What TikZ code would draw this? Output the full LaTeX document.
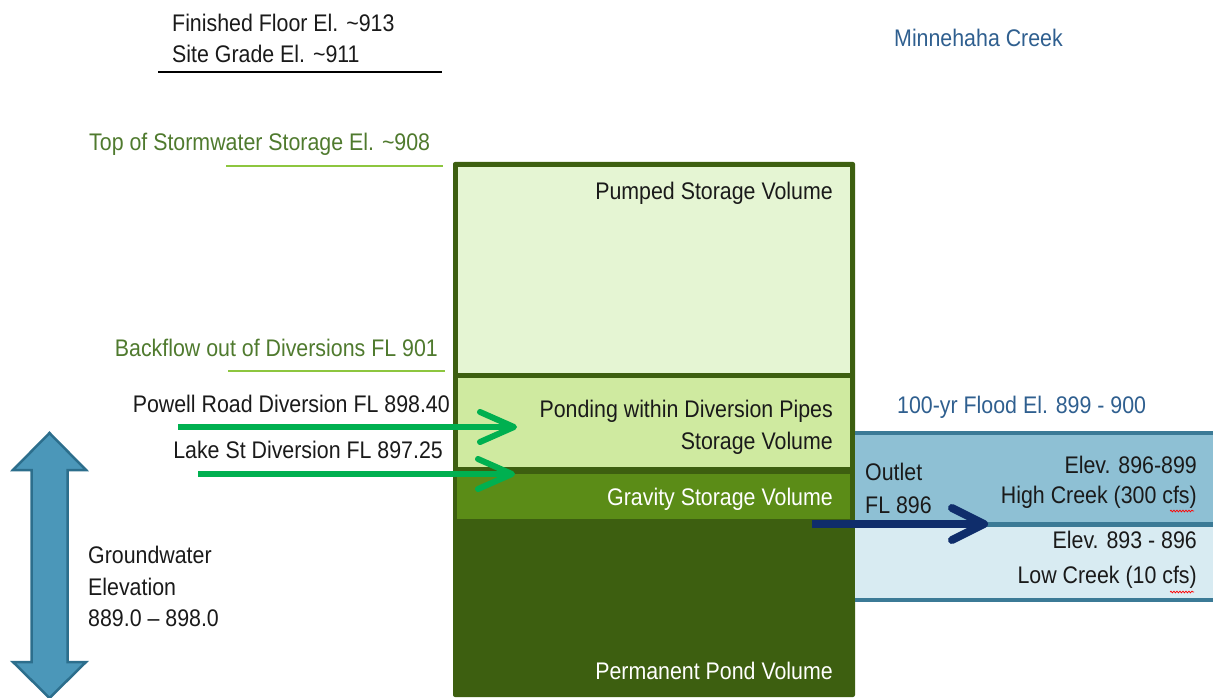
\documentclass[tikz,border=0pt]{standalone}
\usepackage{fontspec}
\setmainfont[FakeStretch=0.89]{Liberation Sans}
\usetikzlibrary{arrows.meta,decorations.pathmorphing}
\definecolor{dkgreen}{HTML}{3D5F10}
\definecolor{pumpedfill}{HTML}{E5F5D3}
\definecolor{pondfill}{HTML}{CFEAA0}
\definecolor{gravfill}{HTML}{5B8C17}
\definecolor{txtgreen}{HTML}{4F7A2E}
\definecolor{linegreen}{HTML}{8DC63F}
\definecolor{arrowgreen}{HTML}{00B050}
\definecolor{navy}{HTML}{0F2D6B}
\definecolor{creekhigh}{HTML}{8EC0D4}
\definecolor{creeklow}{HTML}{D8EBF2}
\definecolor{creekline}{HTML}{3B7A96}
\definecolor{gwfill}{HTML}{4B97B9}
\definecolor{gwline}{HTML}{2C6E8C}
\definecolor{bluetxt}{HTML}{2F5F8F}
\definecolor{txtblack}{HTML}{1A1A1A}
\begin{document}
\begin{tikzpicture}[x=1pt,y=-1pt,
  lbl/.style={inner sep=0pt, text=txtblack, font=\fontsize{24}{28}\selectfont},
  garrow/.style={draw=arrowgreen, line width=6pt, -{Straight Barb[length=34pt,width=30pt,round]}},
  oarrow/.style={draw=navy, line width=8pt, -{Straight Barb[length=32pt,width=32pt,round]}},
  rule/.style={line width=1.5pt},
  wavy/.style={red, line width=0.7pt, decorate, decoration={snake, amplitude=0.9pt, segment length=3pt}}]
\useasboundingbox (0,0) rectangle (1213,698);
% main storage box
\fill[dkgreen, rounded corners=2pt] (453,162) rectangle (855,697);
\fill[pumpedfill] (458,167) rectangle (850,373);
\fill[pondfill] (458,378) rectangle (850,467);
\fill[gravfill] (457,474) rectangle (850,519);
% creek bands
\fill[creekhigh] (855,431) rectangle (1213,524);
\fill[creeklow] (855,524) rectangle (1213,600);
\draw[creekline, line width=4pt] (855,433) -- (1213,433);
\draw[creekline, line width=4.5pt] (855,524.5) -- (1213,524.5);
\draw[creekline, line width=4pt] (855,600) -- (1213,600);
% groundwater double arrow
\filldraw[fill=gwfill, draw=gwline, line width=2.5pt, line join=miter]
  (49.5,433) -- (86,470) -- (67.5,470) -- (67.5,662) -- (86,662) -- (49.5,698)
  -- (13,662) -- (31.5,662) -- (31.5,470) -- (13,470) -- cycle;
% top labels
\node[lbl, anchor=base west] (ff) at (172,32) {Finished Floor El. \textasciitilde913};
\node[lbl, anchor=base west] (sg) at (172,63) {Site Grade El. \textasciitilde911};
\draw[rule, black] (158,72) -- (442,72);
\node[lbl, text=txtgreen, anchor=base west] (top) at (89,151) {Top of Stormwater Storage El. \textasciitilde908};
\draw[rule, linegreen] (226,166) -- (443,166);
\node[lbl, text=txtgreen, anchor=base east] (bf) at (438,356) {Backflow out of Diversions FL 901};
\draw[rule, linegreen] (228,371) -- (445,371);
\node[lbl, anchor=base east] (pr) at (450,412) {Powell Road Diversion FL 898.40};
\node[lbl, anchor=base east] (ls) at (443,458) {Lake St Diversion FL 897.25};
% groundwater text
\node[lbl, anchor=base west] (gw1) at (88,563) {Groundwater};
\node[lbl, anchor=base west] (gw2) at (88,595) {Elevation};
\node[lbl, anchor=base west] (gw3) at (88,626) {889.0 -- 898.0};
% box labels
\node[lbl, anchor=base east] (pumped) at (833,199) {Pumped Storage Volume};
\node[lbl, anchor=base east] (pond1) at (833,417) {Ponding within Diversion Pipes};
\node[lbl, anchor=base east] (pond2) at (833,449) {Storage Volume};
\node[lbl, text=white, anchor=base east] (grav) at (833,505) {Gravity Storage Volume};
\node[lbl, text=white, anchor=base east] (perm) at (833,679) {Permanent Pond Volume};
% creek labels
\node[lbl, text=bluetxt, anchor=base west] (mc) at (894,47) {Minnehaha Creek};
\node[lbl, text=bluetxt, anchor=base west] (flood) at (897,413) {100-yr Flood El. 899 - 900};
\node[lbl, anchor=base west] (out1) at (865,480) {Outlet};
\node[lbl, anchor=base west] (out2) at (865,513) {FL 896};
\node[lbl, anchor=base east] (hc1) at (1197,473) {Elev. 896-899};
\node[lbl, anchor=base east] (hc2) at (1197,503) {High Creek (300 cfs)};
\node[lbl, anchor=base east] (lc1) at (1197,548) {Elev. 893 - 896};
\node[lbl, anchor=base east] (lc2) at (1197,583) {Low Creek (10 cfs)};
\draw[wavy] (1170,511) -- (1194,511);
\draw[wavy] (1170,592) -- (1194,592);
% arrows
\coordinate (pa) at (178,427);
\coordinate (pb) at (517,427);
\coordinate (la) at (198,474);
\coordinate (lb) at (515,474);
\coordinate (oa) at (812,524);
\coordinate (ob) at (988,524);
\draw[garrow] (pa) -- (pb);
\draw[garrow] (la) -- (lb);
\draw[oarrow] (oa) -- (ob);
\end{tikzpicture}
\end{document}
